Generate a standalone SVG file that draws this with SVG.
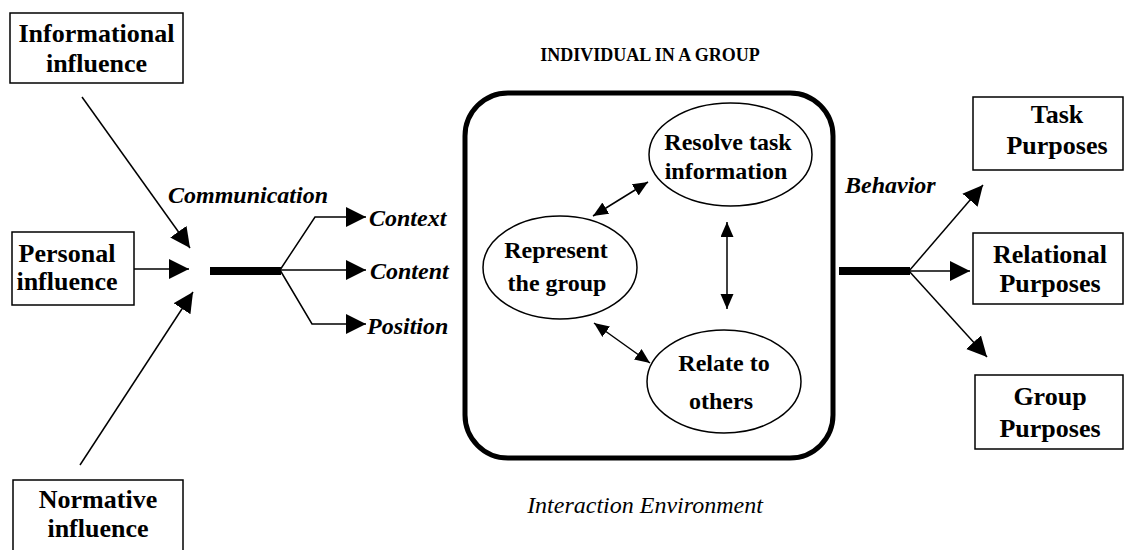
<svg xmlns="http://www.w3.org/2000/svg" width="1124" height="550" viewBox="0 0 1124 550">
<defs>
<style>
.box{fill:#fff;stroke:#000;stroke-width:1.5}
.ell{fill:#fff;stroke:#000;stroke-width:1.5}
.bt{font-family:"Liberation Serif","Times New Roman",serif;font-weight:bold;font-size:26px;text-anchor:middle;fill:#000}
.et{font-family:"Liberation Serif","Times New Roman",serif;font-weight:bold;font-size:24px;text-anchor:middle;fill:#000}
.lbl{font-family:"Liberation Serif","Times New Roman",serif;font-weight:bold;font-style:italic;font-size:24px;fill:#000}
.ln{fill:none;stroke:#000;stroke-width:1.5}
.thick{fill:none;stroke:#000;stroke-width:8}
</style>
<marker id="big" markerUnits="userSpaceOnUse" markerWidth="21" markerHeight="21" refX="20" refY="10" orient="auto">
<path d="M0,0 L20,10 L0,20 z" fill="#000"/>
</marker>
<marker id="sm" markerUnits="userSpaceOnUse" markerWidth="16" markerHeight="14" refX="15" refY="6.5" orient="auto-start-reverse">
<path d="M0,0 L15,6.5 L0,13 z" fill="#000"/>
</marker>
</defs>
<rect width="1124" height="550" fill="#fff"/>

<g id="connectors">
<line class="ln" x1="82" y1="97" x2="190" y2="248" marker-end="url(#big)"/>
<line class="ln" x1="134" y1="269" x2="189" y2="269" marker-end="url(#big)"/>
<line class="ln" x1="80" y1="465" x2="193" y2="292" marker-end="url(#big)"/>
<line class="thick" x1="210" y1="271" x2="281" y2="271"/>
<polyline class="ln" points="280,270 315,217 366,217" marker-end="url(#big)"/>
<line class="ln" x1="280" y1="270" x2="366" y2="270" marker-end="url(#big)"/>
<polyline class="ln" points="280,270 312,324 366,324" marker-end="url(#big)"/>
<line class="ln" x1="593" y1="216" x2="648" y2="182" marker-start="url(#sm)" marker-end="url(#sm)"/>
<line class="ln" x1="727" y1="222" x2="727" y2="309" marker-start="url(#sm)" marker-end="url(#sm)"/>
<line class="ln" x1="594" y1="323" x2="650" y2="363" marker-start="url(#sm)" marker-end="url(#sm)"/>
<line class="thick" x1="839" y1="271" x2="910" y2="271"/>
<line class="ln" x1="909" y1="271" x2="983" y2="185" marker-end="url(#big)"/>
<line class="ln" x1="909" y1="271" x2="970" y2="271" marker-end="url(#big)"/>
<line class="ln" x1="909" y1="271" x2="987" y2="357" marker-end="url(#big)"/>
</g>

<g id="informational">
<rect class="box" x="10" y="13" width="173" height="70"/>
<text class="bt" x="96.5" y="42">Informational</text>
<text class="bt" x="96.5" y="72">influence</text>
</g>
<g id="personal">
<rect class="box" x="12" y="232" width="122" height="73"/>
<text class="bt" x="67" y="262">Personal</text>
<text class="bt" x="67" y="290">influence</text>
</g>
<g id="normative">
<rect class="box" x="13" y="480" width="170" height="80"/>
<text class="bt" x="98" y="508">Normative</text>
<text class="bt" x="98" y="537">influence</text>
</g>

<g id="labels">
<text class="lbl" x="168" y="203">Communication</text>
<text class="lbl" x="369" y="226">Context</text>
<text class="lbl" x="370" y="279">Content</text>
<text class="lbl" x="367" y="334">Position</text>
<text class="lbl" x="845" y="193">Behavior</text>
<text x="650" y="61" font-family="Liberation Serif, Times New Roman, serif" font-weight="bold" font-size="18" text-anchor="middle">INDIVIDUAL IN A GROUP</text>
<text x="645" y="513" font-family="Liberation Serif, Times New Roman, serif" font-style="italic" font-size="24" text-anchor="middle">Interaction Environment</text>
</g>

<g id="individual-group">
<rect x="465" y="93" width="368" height="365" rx="43" ry="43" fill="none" stroke="#000" stroke-width="5"/>
</g>
<g id="resolve">
<ellipse class="ell" cx="730.5" cy="154.5" rx="81.5" ry="51.5"/>
<text class="et" x="728" y="150">Resolve task</text>
<text class="et" x="726" y="179">information</text>
</g>
<g id="represent">
<ellipse class="ell" cx="560" cy="267.5" rx="77" ry="51.5"/>
<text class="et" x="556" y="258">Represent</text>
<text class="et" x="557" y="291">the group</text>
</g>
<g id="relate">
<ellipse class="ell" cx="724" cy="381.5" rx="77" ry="51.5"/>
<text class="et" x="724" y="371">Relate to</text>
<text class="et" x="721" y="409">others</text>
</g>

<g id="task">
<rect class="box" x="973" y="97" width="150" height="73"/>
<text class="bt" x="1057" y="123">Task</text>
<text class="bt" x="1057" y="154">Purposes</text>
</g>
<g id="relational">
<rect class="box" x="973" y="233" width="150" height="71"/>
<text class="bt" x="1050" y="263">Relational</text>
<text class="bt" x="1050" y="292">Purposes</text>
</g>
<g id="group">
<rect class="box" x="975" y="375" width="148" height="74"/>
<text class="bt" x="1050" y="405">Group</text>
<text class="bt" x="1050" y="437">Purposes</text>
</g>
</svg>
